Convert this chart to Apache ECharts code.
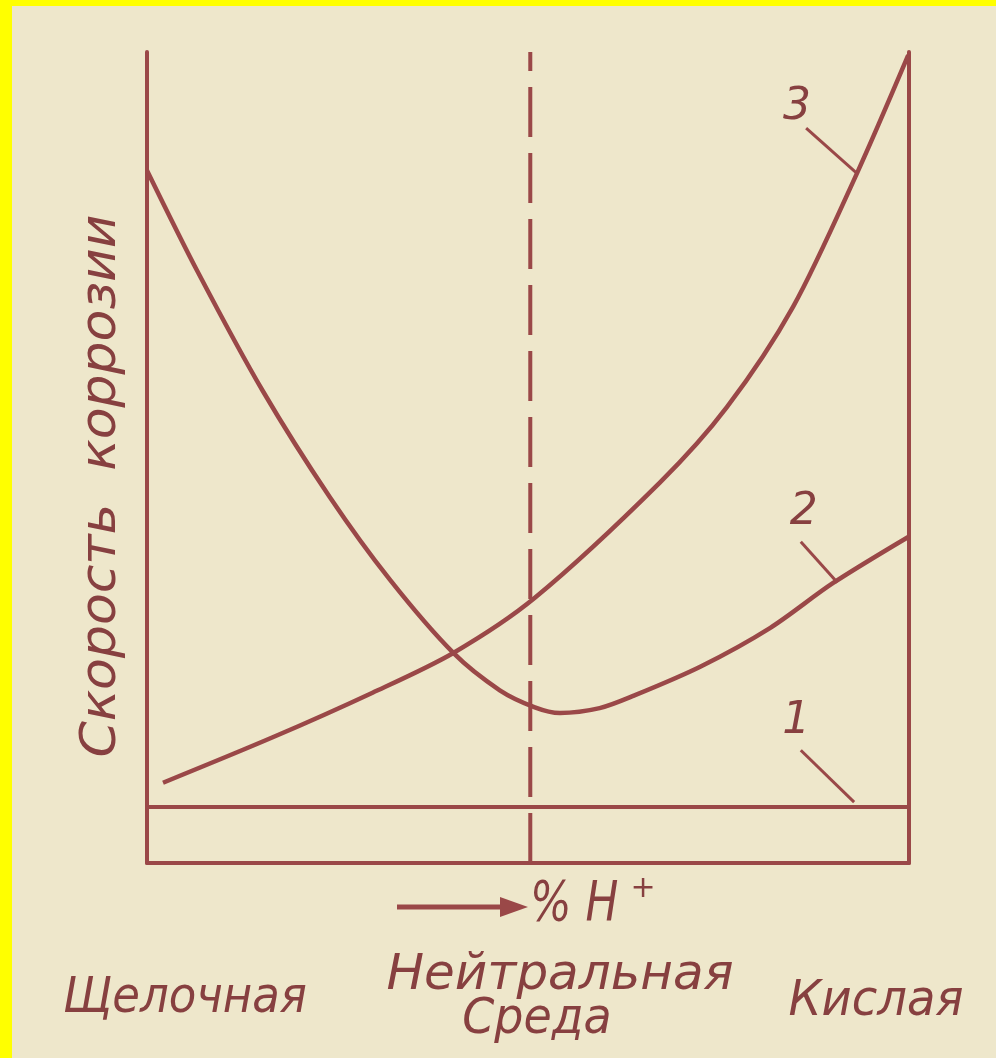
<!DOCTYPE html>
<html>
<head>
<meta charset="utf-8">
<script src="https://cdn.jsdelivr.net/npm/echarts@6/dist/echarts.min.js"></script>
<style>
html,body{margin:0;padding:0;background:#ffff00;}
#chart{width:996px;height:1058px;}
</style>
</head>
<body>
<div id="chart"></div>
<script>
// Curve 3 (rises toward acid side)
const curve3X = [2.1, 16.5, 29.6, 40.2, 50.9, 67.3, 76.1, 84.8, 93.2, 99.9];
const curve3Y = [9.9, 15.5, 21.0, 25.9, 32.7, 46.9, 56.2, 68.6, 85.1, 99.6];
// Curve 2 (high in alkaline, minimum near neutral, rises in acid)
const curve2X = [0, 6.6, 15.2, 24.0, 31.9, 40.2, 46.3, 50.9, 54.2, 59.4, 63.8, 72.6, 81.8, 90.0, 99.9];
const curve2Y = [85.4, 73.0, 58.2, 45.1, 34.9, 25.9, 21.3, 19.2, 18.5, 19.1, 20.6, 24.2, 29.0, 34.5, 40.2];
// Curve 1 (constant)
const curve1X = [0, 100];
const curve1Y = [6.9, 6.9];
// Neutral line
const neutralX = [50.3, 50.3];
const neutralY = [0, 100];
// Curve number labels and their leader lines
const labelText = ['1', '2', '3'];
const labelX = [85.2, 86.2, 85.3];
const labelY = [17.4, 43.2, 93.1];
const leaderX = [[85.8, 92.8], [85.8, 90.6], [86.5, 93.1]];
const leaderY = [[13.9, 7.5], [39.6, 34.6], [90.6, 85.1]];
// Texts
const yTitle = 'Скорость  коррозии';
const xTitle = '% H';
const envLeft = 'Щелочная';
const envMid1 = 'Нейтральная';
const envMid2 = 'Среда';
const envRight = 'Кислая';

const LINE = '#9a4848';
const TEXT = '#874040';
const FONT = "'DejaVu Sans', sans-serif";

function zip(xs, ys) { return xs.map((x, i) => [x, ys[i]]); }

const chart = echarts.init(document.getElementById('chart'), null, {renderer: 'canvas'});

const series = [
  {type: 'line', data: zip(curve1X, curve1Y), symbol: 'none', lineStyle: {color: LINE, width: 4}},
  {type: 'line', data: zip(curve2X, curve2Y), symbol: 'none', smooth: 0.3, lineStyle: {color: LINE, width: 4.5}},
  {type: 'line', data: zip(curve3X, curve3Y), symbol: 'none', smooth: 0.3, lineStyle: {color: LINE, width: 4.5}},
  {type: 'line', data: zip(neutralX, neutralY), symbol: 'none', lineStyle: {color: LINE, width: 4, type: [50, 16]}},
  {type: 'scatter', data: zip(labelX, labelY).map((p, i) => ({value: p, label: {formatter: labelText[i]}})),
   symbolSize: 0, itemStyle: {opacity: 1},
   label: {show: true, position: 'inside', color: TEXT, fontSize: 44, fontStyle: 'italic', fontFamily: FONT}}
];
leaderX.forEach((xs, i) => {
  series.push({type: 'line', data: zip(xs, leaderY[i]), symbol: 'none', lineStyle: {color: LINE, width: 3}});
});

const ts = (extra) => Object.assign({fill: TEXT, fontFamily: FONT, fontStyle: 'italic', fontSize: 50, textAlign: 'center', textVerticalAlign: 'middle'}, extra);

chart.setOption({
  animation: false,
  backgroundColor: '#eee7cb',
  grid: {left: 147, right: 87, top: 52, bottom: 195},
  xAxis: {type: 'value', min: 0, max: 100, axisLine: {show: true, onZero: false, lineStyle: {color: LINE, width: 4}},
          axisTick: {show: false}, axisLabel: {show: false}, splitLine: {show: false}},
  yAxis: [
    {type: 'value', min: 0, max: 100, position: 'left', axisLine: {show: true, onZero: false, lineStyle: {color: LINE, width: 4}},
     axisTick: {show: false}, axisLabel: {show: false}, splitLine: {show: false}},
    {type: 'value', min: 0, max: 100, position: 'right', axisLine: {show: true, onZero: false, lineStyle: {color: LINE, width: 4}},
     axisTick: {show: false}, axisLabel: {show: false}, splitLine: {show: false}}
  ],
  series: series,
  graphic: [
    {type: 'rect', shape: {x: 0, y: 0, width: 12, height: 1058}, style: {fill: '#ffff00'}, z: 100},
    {type: 'rect', shape: {x: 0, y: 0, width: 996, height: 6}, style: {fill: '#ffff00'}, z: 100},
    {type: 'text', x: 102, y: 486, rotation: Math.PI / 2, scaleX: 1.04, style: ts({text: yTitle})},
    {type: 'line', shape: {x1: 397, y1: 907, x2: 510, y2: 907}, style: {stroke: LINE, lineWidth: 5}},
    {type: 'polygon', shape: {points: [[500, 897], [528, 907], [500, 917]]}, style: {fill: LINE}},
    {type: 'text', x: 530, y: 905, scaleX: 0.78, style: ts({text: xTitle, fontSize: 56, textAlign: 'left'})},
    {type: 'text', x: 643, y: 889, style: ts({text: '+', fontSize: 30})},
    {type: 'text', x: 185, y: 999, scaleX: 0.9, style: ts({text: envLeft})},
    {type: 'text', x: 560, y: 976, style: ts({text: envMid1})},
    {type: 'text', x: 537, y: 1020, scaleX: 0.92, style: ts({text: envMid2})},
    {type: 'text', x: 876, y: 1002, scaleX: 0.93, style: ts({text: envRight})}
  ]
});
</script>
</body>
</html>
